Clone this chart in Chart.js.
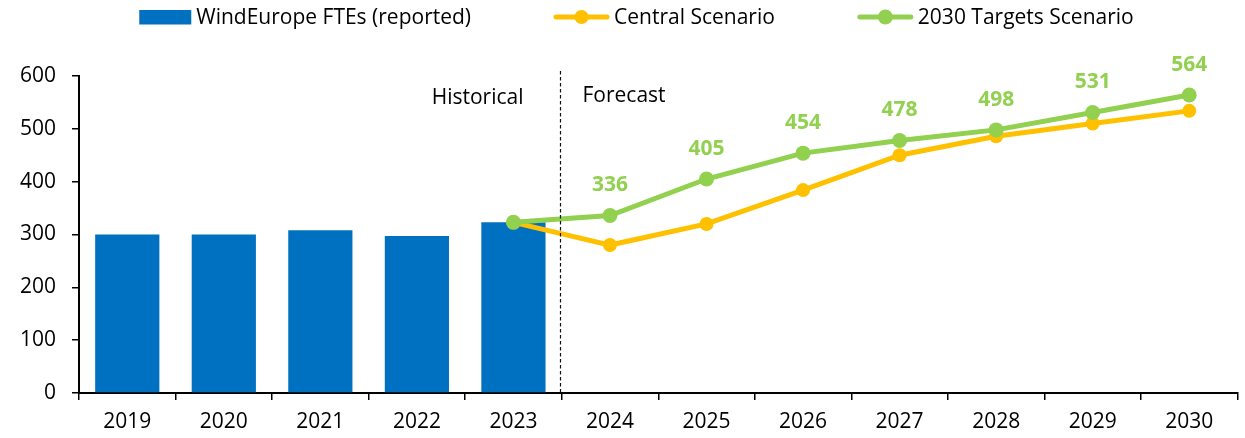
<!DOCTYPE html>
<html>
<head>
<meta charset="utf-8">
<script src="https://cdn.jsdelivr.net/npm/chart.js@4.4.1/dist/chart.umd.min.js"></script>
<style>
  html, body { margin: 0; padding: 0; background: #fff; }
  #wrap { width: 1245px; height: 438px; position: relative; }
</style>
</head>
<body>
<div id="wrap"><canvas id="jobsChart"></canvas></div>
<script>
// Data
const years = ['2019', '2020', '2021', '2022', '2023', '2024', '2025', '2026', '2027', '2028', '2029', '2030'];
const reportedFTEs = [300, 300, 308, 297, 323, null, null, null, null, null, null, null];
const centralScenario = [null, null, null, null, 323, 280, 320, 384, 450, 486, 510, 534];
const targetsScenario = [null, null, null, null, 323, 336, 405, 454, 478, 498, 531, 564];
const yTicks = [0, 100, 200, 300, 400, 500, 600];
const periodLabels = ['Historical', 'Forecast'];
const firstForecastYear = '2024';

// Colors
const blue = '#0070C0';
const orange = '#FFC000';
const green = '#92D050';
const fontFamily = "'Open Sans', sans-serif";

Chart.defaults.font.family = fontFamily;
Chart.defaults.font.size = 21;
Chart.defaults.color = '#000';

// Legend drawn by hand so the spacing matches the original
const legendPlugin = {
    id: 'topLegend',
    afterDraw(chart) {
        const ctx = chart.ctx;
        ctx.save();
        ctx.font = `21px ${fontFamily}`;
        const items = chart.data.datasets.map(ds => ({
            ds,
            markW: ds.type === 'bar' ? 52 : 55,
            textW: ctx.measureText(ds.label).width
        }));
        const gapText = 5, gapItem = 83;
        const total = items.reduce((s, it) => s + it.markW + gapText + it.textW, 0) + gapItem * (items.length - 1);
        let x = chart.width / 2 + 14 - total / 2;
        const midY = 17;
        items.forEach(it => {
            const ds = it.ds;
            if (ds.type === 'bar') {
                ctx.fillStyle = ds.backgroundColor;
                ctx.fillRect(x, 10, it.markW, 14.5);
            } else {
                ctx.strokeStyle = ds.borderColor;
                ctx.lineWidth = ds.borderWidth;
                ctx.lineCap = 'round';
                ctx.beginPath();
                ctx.moveTo(x + 2, midY);
                ctx.lineTo(x + it.markW - 2, midY);
                ctx.stroke();
                ctx.fillStyle = ds.pointBackgroundColor;
                ctx.beginPath();
                ctx.arc(x + it.markW / 2, midY, ds.pointRadius, 0, Math.PI * 2);
                ctx.fill();
            }
            x += it.markW + gapText;
            ctx.fillStyle = '#000';
            ctx.textBaseline = 'alphabetic';
            ctx.textAlign = 'left';
            ctx.fillText(ds.label, x, 24);
            x += it.textW + gapItem;
        });
        ctx.restore();
    }
};

// Dashed divider between historical and forecast years
const dividerPlugin = {
    id: 'divider',
    afterDatasetsDraw(chart) {
        const { ctx, chartArea, scales: { x } } = chart;
        const idx = years.indexOf(firstForecastYear);
        const xPos = Math.round((x.getPixelForValue(idx - 1) + x.getPixelForValue(idx)) / 2) - 1.5;
        ctx.save();
        ctx.strokeStyle = '#111';
        ctx.lineWidth = 1.2;
        ctx.setLineDash([3.5, 2.5]);
        ctx.beginPath();
        ctx.moveTo(xPos, chartArea.top - 5);
        ctx.lineTo(xPos, chartArea.bottom);
        ctx.stroke();
        ctx.setLineDash([]);
        ctx.font = `21px ${fontFamily}`;
        ctx.fillStyle = '#000';
        ctx.textBaseline = 'alphabetic';
        ctx.textAlign = 'right';
        ctx.fillText(periodLabels[0], xPos - 37, chartArea.top + 28);
        ctx.textAlign = 'left';
        ctx.fillText(periodLabels[1], xPos + 22, chartArea.top + 26);
        ctx.restore();
    }
};

// Value labels above the 2030 Targets points (forecast years only)
const valueLabelPlugin = {
    id: 'valueLabels',
    afterDatasetsDraw(chart) {
        const ctx = chart.ctx;
        const dsIndex = chart.data.datasets.findIndex(d => d.label === '2030 Targets Scenario');
        const meta = chart.getDatasetMeta(dsIndex);
        const start = years.indexOf(firstForecastYear);
        ctx.save();
        ctx.font = `bold 21px ${fontFamily}`;
        ctx.fillStyle = green;
        ctx.textAlign = 'center';
        ctx.textBaseline = 'alphabetic';
        meta.data.forEach((pt, i) => {
            if (i < start || targetsScenario[i] == null) return;
            ctx.fillText(String(targetsScenario[i]), pt.x, pt.y - 24);
        });
        ctx.restore();
    }
};

const ctx = document.getElementById('jobsChart').getContext('2d');
new Chart(ctx, {
    data: {
        labels: years,
        datasets: [
            {
                type: 'bar',
                label: 'WindEurope FTEs (reported)',
                data: reportedFTEs,
                backgroundColor: blue,
                categoryPercentage: 1,
                barPercentage: 0.665,
                order: 3
            },
            {
                type: 'line',
                label: 'Central Scenario',
                data: centralScenario,
                borderColor: orange,
                backgroundColor: orange,
                pointBackgroundColor: orange,
                pointBorderWidth: 0,
                borderWidth: 5,
                pointRadius: 7,
                tension: 0,
                order: 2
            },
            {
                type: 'line',
                label: '2030 Targets Scenario',
                data: targetsScenario,
                borderColor: green,
                backgroundColor: green,
                pointBackgroundColor: green,
                pointBorderWidth: 0,
                borderWidth: 5,
                pointRadius: 7.5,
                tension: 0,
                order: 1
            }
        ]
    },
    options: {
        responsive: true,
        maintainAspectRatio: false,
        animation: false,
        layout: { padding: { top: 76, left: 20, right: 7, bottom: 0 } },
        plugins: {
            legend: { display: false },
            tooltip: { enabled: false }
        },
        scales: {
            x: {
                grid: { display: true, drawOnChartArea: false, offset: true, tickLength: 7, color: '#000', lineWidth: 1.5 },
                border: { color: '#000', width: 2 },
                ticks: { padding: 9, maxRotation: 0 },
                afterFit: scale => { scale.height = 45; }
            },
            y: {
                min: yTicks[0],
                max: yTicks[yTicks.length - 1],
                afterBuildTicks: scale => { scale.ticks = yTicks.map(v => ({ value: v })); },
                grid: { display: true, drawOnChartArea: false, tickLength: 7, color: '#000', lineWidth: 1.5 },
                border: { color: '#000', width: 2 },
                ticks: { padding: 16 },
                afterFit: scale => { scale.width = 59; }
            }
        }
    },
    plugins: [legendPlugin, dividerPlugin, valueLabelPlugin]
});
</script>
</body>
</html>
